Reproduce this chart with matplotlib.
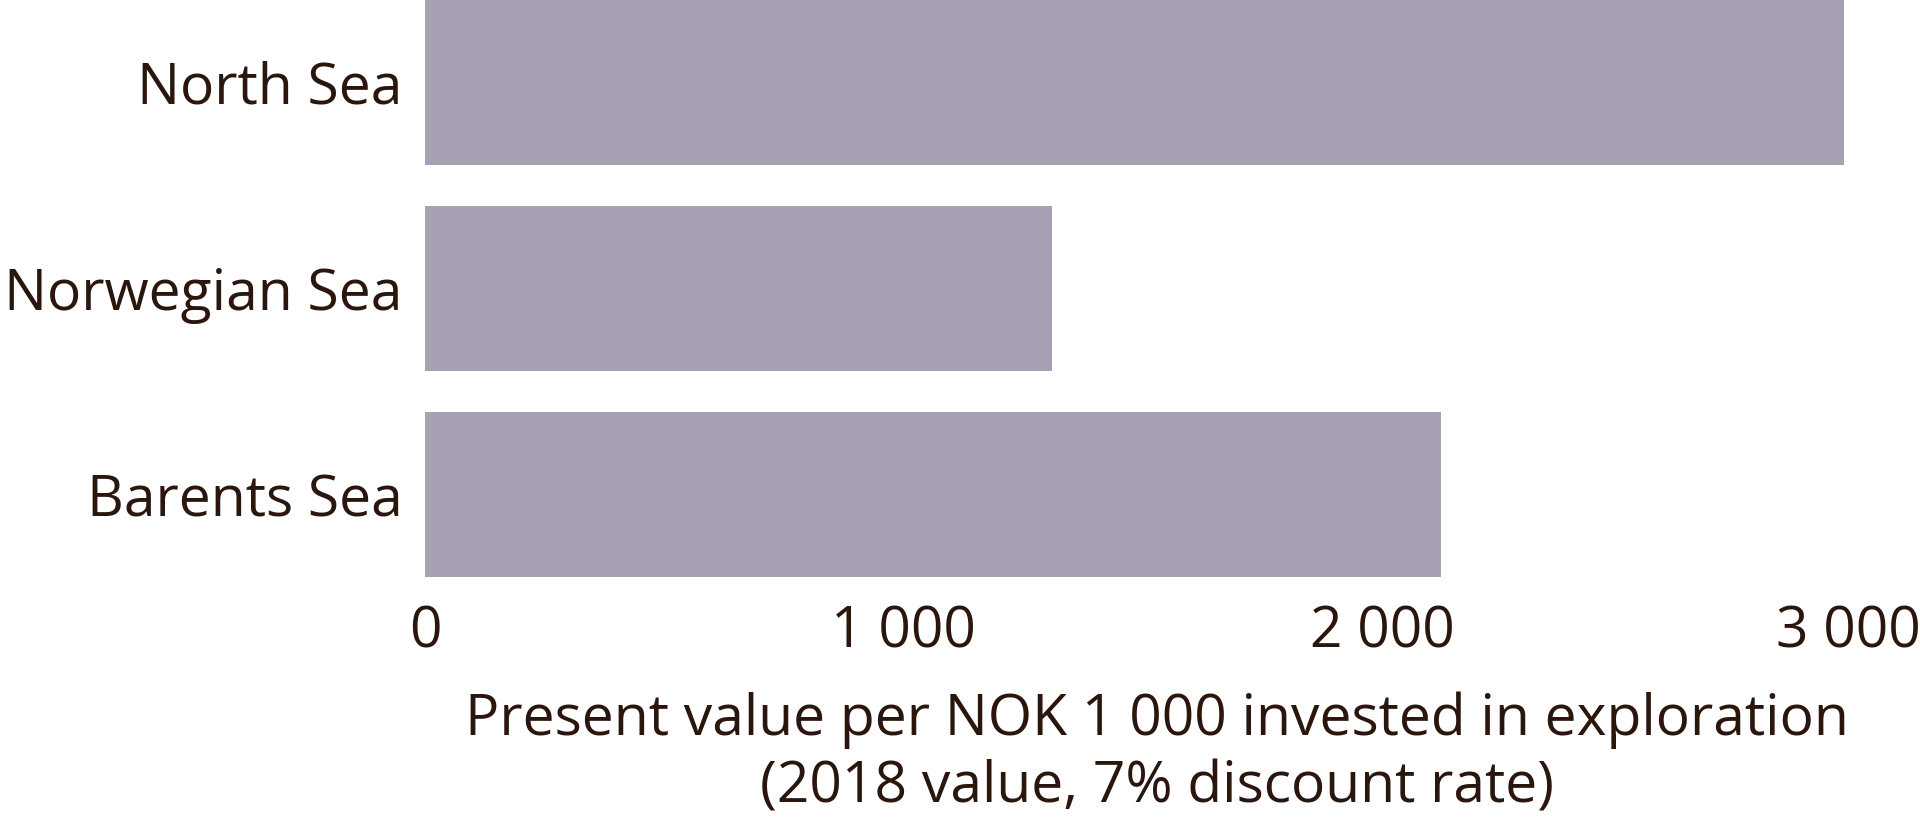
import matplotlib
matplotlib.use("Agg")
import matplotlib.pyplot as plt
from matplotlib.transforms import ScaledTranslation

regions = ["North Sea", "Norwegian Sea", "Barents Sea"]
present_value = [2964, 1310, 2122]
x_ticks = [0, 1000, 2000, 3000]
x_tick_labels = ["0", "1 000", "2 000", "3 000"]
x_label = "Present value per NOK 1 000 invested in exploration\n(2018 value, 7% discount rate)"

bar_color = "#a8a1b3"
text_color = "#2a160c"

plt.rcParams["font.family"] = ["Open Sans", "DejaVu Sans"]

fig = plt.figure(figsize=(19.2, 8.27), dpi=100)
ax = fig.add_axes([0.22135, 0.3023, 0.74792, 0.6977])

ax.barh(range(len(regions)), present_value, height=0.8, color=bar_color)

ax.set_xlim(0, 3000)
ax.set_ylim(2.40, -0.40)
ax.set_yticks(range(len(regions)))
ax.set_yticklabels(regions)
ax.set_xticks(x_ticks)
ax.set_xticklabels(x_tick_labels)

ax.tick_params(axis="both", length=0, labelsize=41, labelcolor=text_color)
ax.tick_params(axis="y", pad=16)
ax.tick_params(axis="x", pad=20)
for s in ax.spines.values():
    s.set_visible(False)

# last tick label is pulled in so it fits the figure
lab = ax.get_xticklabels()[-1]
lab.set_transform(lab.get_transform() + ScaledTranslation(-0.13, 0, fig.dpi_scale_trans))

ax.set_xlabel(x_label, fontsize=41, color=text_color, linespacing=1.25)
ax.xaxis.set_label_coords(0.51, -0.198)

fig.savefig("out.png", dpi=100)
